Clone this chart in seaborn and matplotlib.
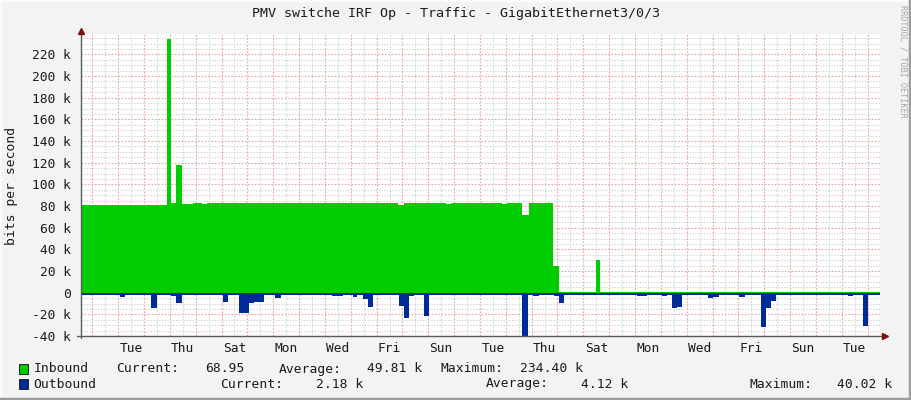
import pandas as pd
import matplotlib
matplotlib.use("Agg")
import matplotlib.pyplot as plt
import seaborn as sns
from matplotlib.lines import Line2D
from matplotlib.patches import Rectangle

# time in days, day 0 = Monday 00:00 (first red grid line)
t_start = -0.45
t_end = 30.48

# inbound traffic (kbit/s), step values starting at in_day
in_day = [t_start, 2.88, 3.05, 3.25, 3.47, 3.69, 3.89, 4.23, 4.44, 11.83, 12.06,
          13.68, 13.87, 15.84, 16.06, 16.64, 16.89, 17.84, 18.07, 19.48, 19.65]
in_kbps = [80.8, 234.4, 82.5, 117.5, 82.3, 81.5, 82.5, 81.8, 82.8, 81.2, 82.8,
           82.0, 82.8, 82.0, 82.8, 72.0, 82.8, 24.6, 0.8, 30.2, 0.8]

# outbound traffic (kbit/s), drawn below zero
out_day = [t_start, 1.07, 1.28, 2.08, 2.27, 2.49, 3.05, 3.24, 3.47, 5.07, 5.26,
           5.67, 6.06, 6.27, 6.65, 7.07, 7.29, 9.27, 9.69, 10.08, 10.26, 10.46,
           10.66, 10.87, 11.87, 12.06, 12.26, 12.46, 12.84, 13.03, 16.64, 16.87,
           17.07, 17.27, 17.87, 18.07, 18.27, 18.84, 19.26, 19.48, 20.03, 20.23,
           21.07, 21.46, 22.06, 22.25, 22.45, 22.64, 22.83, 23.84, 24.03, 24.26,
           25.04, 25.26, 25.87, 26.06, 26.25, 26.46, 28.06, 28.25, 29.26, 29.45,
           29.84, 30.03]
out_kbps = [2.0, 3.7, 2.0, 2.5, 13.8, 2.0, 3.0, 9.2, 2.0, 8.3, 2.0,
            18.5, 9.5, 9.0, 2.0, 4.6, 2.0, 3.5, 2.0, 4.0, 2.0, 5.4,
            12.9, 2.0, 12.0, 23.0, 3.0, 2.0, 21.5, 2.0, 40.0, 2.0,
            3.0, 2.0, 3.0, 9.2, 2.6, 2.0, 2.5, 2.0, 2.5, 2.0,
            3.5, 2.0, 3.5, 2.0, 13.8, 12.9, 2.0, 4.6, 3.7, 2.0,
            3.7, 2.0, 31.4, 14.4, 7.7, 2.0, 2.5, 2.0, 3.5, 2.0,
            30.4, 2.2]

day_names = ['Tue', 'Thu', 'Sat', 'Mon', 'Wed', 'Fri', 'Sun', 'Tue',
             'Thu', 'Sat', 'Mon', 'Wed', 'Fri', 'Sun', 'Tue']
y_ticks_k = [-40, -20, 0, 20, 40, 60, 80, 100, 120, 140, 160, 180, 200, 220]

title = 'PMV switche IRF Op - Traffic - GigabitEthernet3/0/3'

df_in = pd.DataFrame({'day': in_day + [t_end], 'bps': [v * 1000 for v in in_kbps + [in_kbps[-1]]]})
df_out = pd.DataFrame({'day': out_day + [t_end], 'bps': [-v * 1000 for v in out_kbps + [out_kbps[-1]]]})

sns.set_theme(style="white")
plt.rcParams['font.family'] = ['DejaVu Sans Mono', 'DejaVu Sans']

W, H = 911, 400
fig = plt.figure(figsize=(W / 100, H / 100), dpi=100, facecolor='#f3f3f3')
x0, x1, y_top, y_bot = 80.7, 880, 34, 336
ax = fig.add_axes([x0 / W, 1 - y_bot / H, (x1 - x0) / W, (y_bot - y_top) / H])
ax.set_facecolor('white')

ax.set_xlim(t_start, t_end)
ax.set_ylim(-40000, 238800)

# grid (behind the data)
red = '#eba3a3'
gray = '#cccccc'
for k in range(-40, 240, 5):
    if k % 20 == 0:
        ax.axhline(k * 1000, color=red, lw=0.8, dashes=(1.5, 1.5), zorder=0)
    else:
        ax.axhline(k * 1000, color=gray, lw=0.8, dashes=(1, 1.5), zorder=0)
for h in range(0, 62):
    d = h / 2
    if h % 2 == 0:
        ax.axvline(d, color=red, lw=0.8, dashes=(1.5, 1.5), zorder=0)
    else:
        ax.axvline(d, color=gray, lw=0.8, dashes=(1, 1.5), zorder=0)

ax.fill_between(df_in['day'], df_in['bps'], step='post', color='#00cc00', lw=0, zorder=2)
ax.fill_between(df_out['day'], df_out['bps'], step='post', color='#002a97', lw=0, zorder=3)

for s in ax.spines.values():
    s.set_visible(False)

ax.set_yticks([k * 1000 for k in y_ticks_k])
ax.set_yticklabels(['0' if k == 0 else f'{k} k' for k in y_ticks_k], fontsize=9.3, color='#1a1a1a')
ax.set_xticks([1.5 + 2 * i for i in range(len(day_names))])
ax.set_xticklabels(day_names, fontsize=9.3, color='#1a1a1a')
ax.tick_params(axis='y', length=0, pad=7)
ax.tick_params(axis='x', length=0, pad=4)

# axis lines with arrows
axis_c = '#5a5a5a'
fig.add_artist(Line2D([x0 / W, x0 / W], [1 - 338 / H, 1 - 31 / H], color=axis_c, lw=1))
fig.add_artist(Line2D([77 / W, 884 / W], [1 - y_bot / H, 1 - y_bot / H], color=axis_c, lw=1))
fig.add_artist(Line2D([x0 / W], [1 - 31 / H], marker='^', color='#7f1010', markersize=5, lw=0))
fig.add_artist(Line2D([885 / W], [1 - y_bot / H], marker='>', color='#7f1010', markersize=5, lw=0))

fig.text(455.5 / W, 1 - 14 / H, title, ha='center', va='center', fontsize=9.6, color='#1a1a1a')
fig.text(12 / W, 1 - 186 / H, 'bits per second', rotation=90, ha='center', va='center',
         fontsize=9.4, color='#1a1a1a')
fig.text(902.5 / W, 1 - 61 / H, 'RRDTOOL / TOBI OETIKER', rotation=-90, ha='center', va='center',
         fontsize=6.1, color='#a8a8a8')

# legend
leg_rows = [
    ('#00cc00', 369, [('Inbound', 33.7), ('Current:', 116.3), ('68.95', 204.7), ('Average:', 279),
                      ('49.81 k', 367.4), ('Maximum:', 440.7), ('234.40 k', 520.3)]),
    ('#002a97', 384, [('Outbound', 33.7), ('Current:', 219.8), ('2.18 k', 315.7), ('Average:', 485.5),
                      ('4.12 k', 581.4), ('Maximum:', 750), ('40.02 k', 837.2)]),
]
for color, yy, items in leg_rows:
    fig.add_artist(Rectangle((18.6 / W, 1 - (yy + 5) / H), 9 / W, 10 / H, facecolor=color,
                             edgecolor='#222222', lw=0.7, transform=fig.transFigure))
    for txt, xx in items:
        fig.text(xx / W, 1 - yy / H, txt, ha='left', va='center', fontsize=9.4, color='#1a1a1a')

# 3d frame
fig.add_artist(Line2D([0, 0], [0, 1], color='#fcfcfc', lw=2))
fig.add_artist(Line2D([0, 1], [1, 1], color='#fcfcfc', lw=2))
fig.add_artist(Line2D([1 - 1 / W, 1 - 1 / W], [0, 1], color='#9c9c9c', lw=2.5))
fig.add_artist(Line2D([0, 1], [1 / H, 1 / H], color='#9c9c9c', lw=2.5))

fig.savefig('out.png', dpi=100, facecolor=fig.get_facecolor())
